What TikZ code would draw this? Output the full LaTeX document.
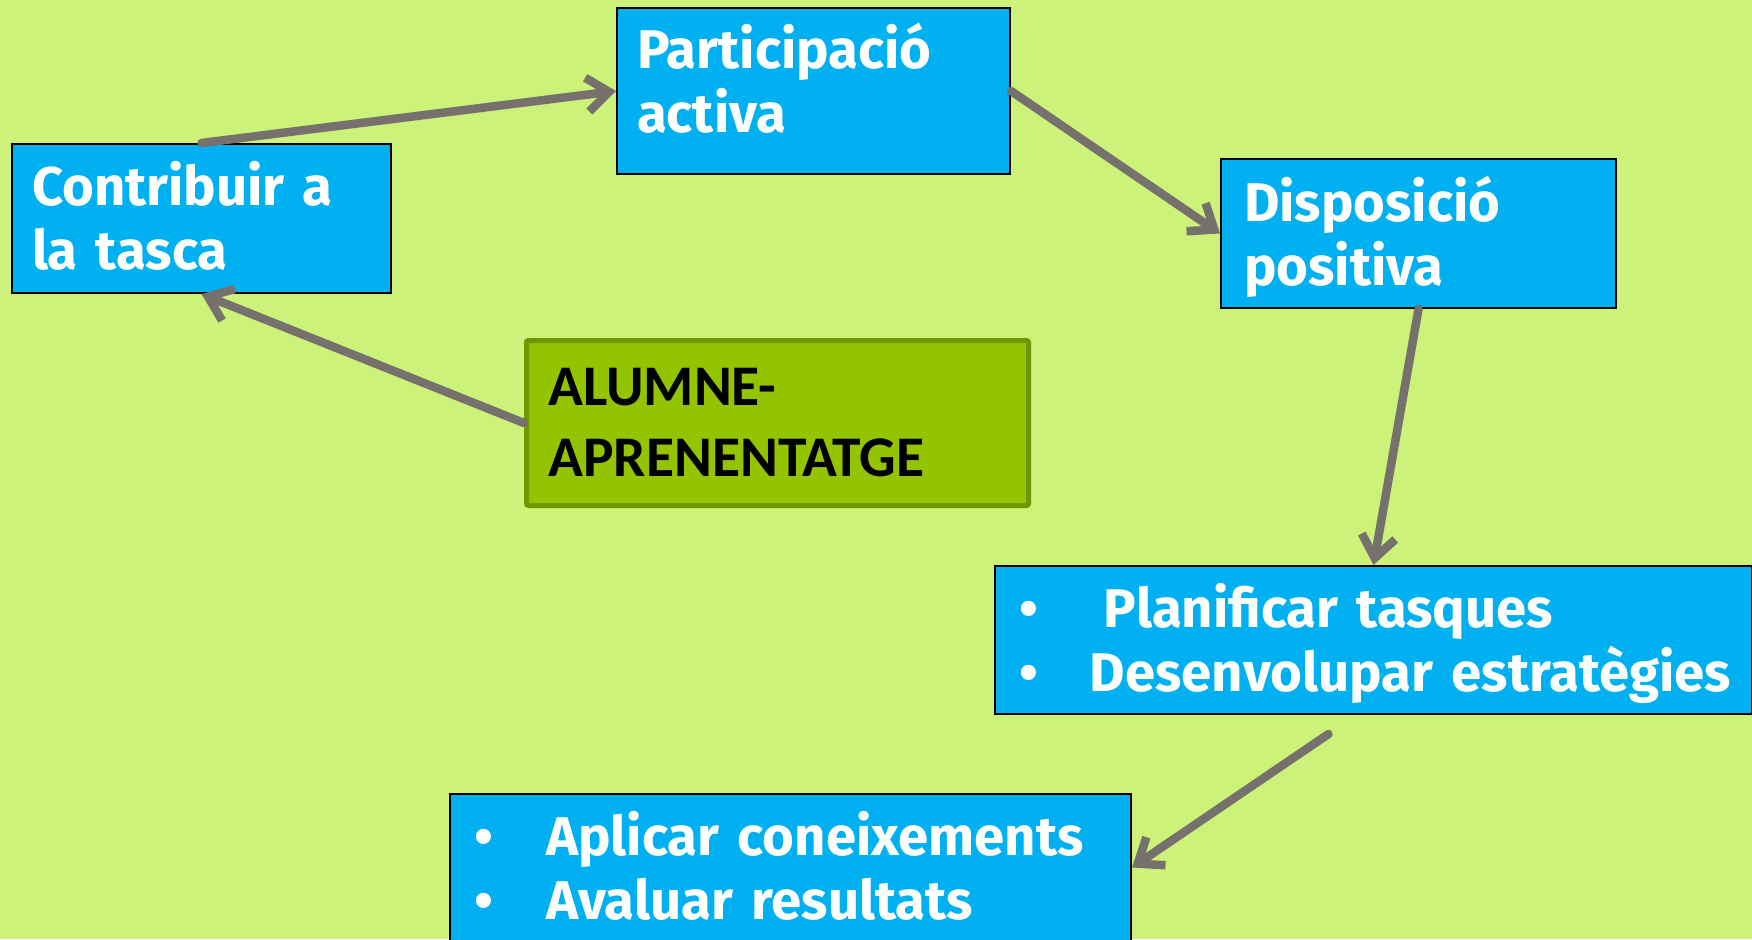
\documentclass[tikz,border=0pt]{standalone}
\usepackage{fontspec}
\setmainfont{Fira Sans}
\newfontfamily\calibri{Carlito}
\usetikzlibrary{arrows.meta,positioning}

\definecolor{bggreen}{RGB}{204,242,122}
\definecolor{boxblue}{RGB}{0,176,240}
\definecolor{olivebox}{RGB}{148,196,0}
\definecolor{oliveline}{RGB}{112,150,0}
\definecolor{arrowgray}{RGB}{118,113,108}

\newcommand\bulletline[2]{\mbox{\makebox[#1][l]{\hspace{4pt}\textbullet}#2}}

\tikzset{
	bluebox/.style={draw=black, line width=2pt, fill=boxblue, text=white,
		anchor=north west, inner ysep=0pt, align=left,
		font=\fontsize{54.5}{64}\selectfont\bfseries},
	mainbox/.style={draw=oliveline, line width=5pt, fill=olivebox, rounded corners=2pt,
		anchor=north west, inner ysep=0pt, align=left,
		font=\calibri\fontsize{57.5}{71}\selectfont\bfseries},
	flow/.style={draw=arrowgray, line width=8.5pt, line cap=round,
		-{Straight Barb[length=22pt,width=34pt]}},
}

\begin{document}
\begin{tikzpicture}[x=1pt,y=1pt]
				\fill[bggreen] (0,0) rectangle (1752,-939);
				\useasboundingbox (0,0) rectangle (1752,-939);

				% 箱を置く
				\node[bluebox, inner xsep=20pt, text width=339pt, text height=61pt, text depth=88pt] (contrib) at (11,-143) {Contribuir a\\la tasca};
				\node[bluebox, inner xsep=20pt, text width=353pt, text height=61pt, text depth=105pt] (partic) at (616,-7) {Participació\\activa};
				\node[bluebox, inner xsep=23pt, text width=349pt, text height=62pt, text depth=87pt] (dispos) at (1220,-158) {Disposició\\positiva};
				\node[bluebox, inner xsep=20pt, text width=717pt, text height=61pt, text depth=87pt] (planif) at (994,-565) {\bulletline{89pt}{Planificar tasques}\\\bulletline{75pt}{Desenvolupar estratègies}};
				\node[bluebox, inner xsep=20pt, text width=641pt, text height=61pt, text depth=86pt] (aplicar) at (449,-793) {\bulletline{76pt}{Aplicar coneixements}\\\bulletline{76pt}{Avaluar resultats}};
				\node[mainbox, inner xsep=22pt, text width=458pt, text height=65pt, text depth=100pt] (alumne) at (524,-338) {ALUMNE-\\APRENENTATGE};

				\coordinate[below left=19pt and 45pt of planif.south] (planout);

				% 矢印を引く
				\draw[flow] (contrib.north) -- (partic.west);
				\draw[flow] (partic.east) -- (dispos.west);
				\draw[flow] (dispos.south) -- (planif.north);
				\draw[flow] (planout) -- (aplicar.east);
				\draw[flow] (alumne.west) -- (contrib.south);

\end{tikzpicture}
\end{document}
